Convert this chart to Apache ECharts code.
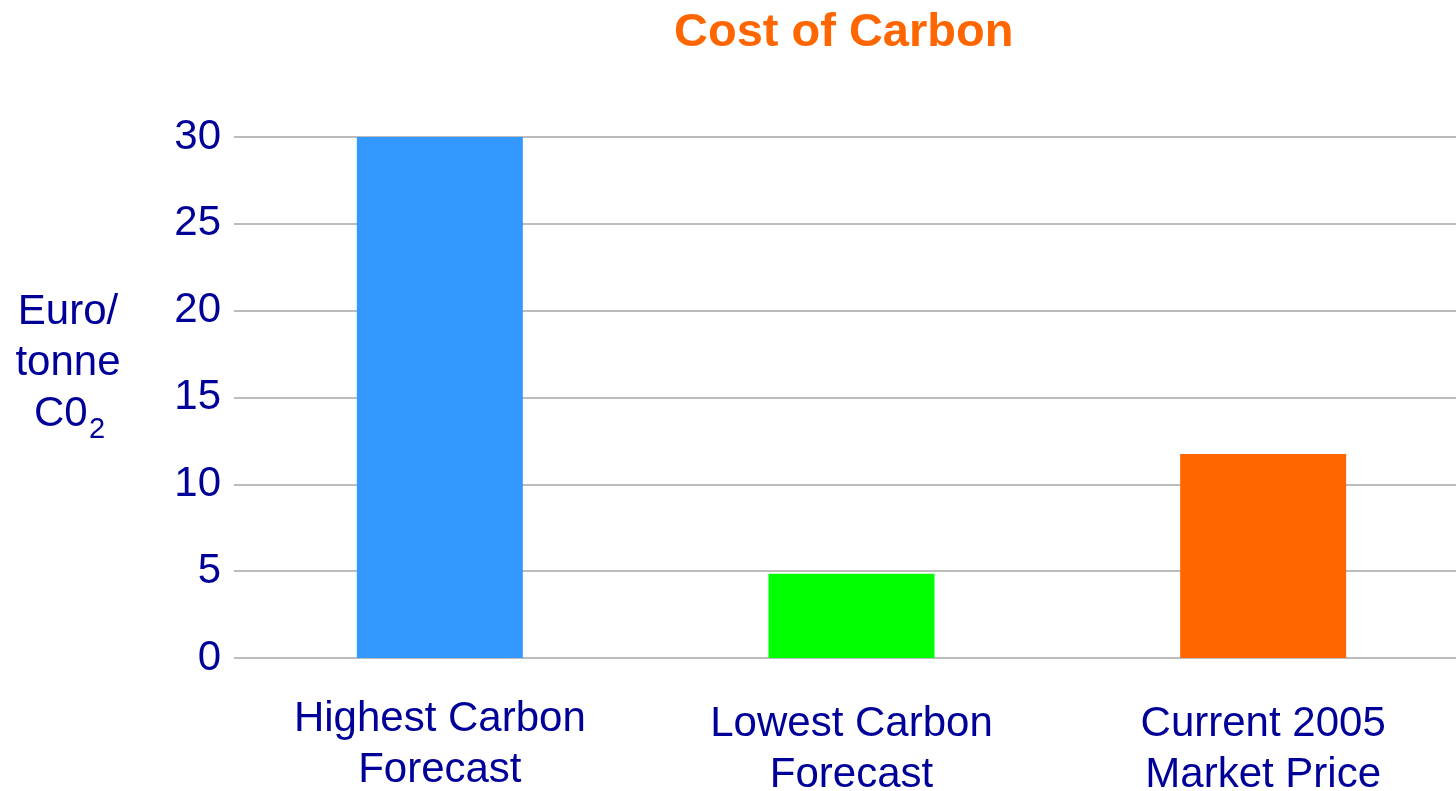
<!DOCTYPE html>
<html>
<head>
<meta charset="utf-8">
<title>Cost of Carbon</title>
<script src="https://cdn.jsdelivr.net/npm/echarts@6/dist/echarts.min.js"></script>
<style>
  html, body { margin: 0; padding: 0; background: #fff; }
  #chart { width: 1456px; height: 791px; }
</style>
</head>
<body>
<div id="chart"></div>
<script>
// data
var categories = ['Highest Carbon\nForecast', 'Lowest Carbon\nForecast', 'Current 2005\nMarket Price']
var values = [30, 4.85, 11.75]
var barColors = ['#3399ff', '#00ff00', '#ff6600']
var yTicks = { min: 0, max: 30, interval: 5 }

var textBlue = '#000099'
var fontFam = 'Liberation Sans, Arial, sans-serif'
var chart = echarts.init(document.getElementById('chart'))

chart.setOption({
  animation: false,
  textStyle: { fontFamily: fontFam },
  title: {
    text: 'Cost of Carbon',
    left: 669,
    top: 5,
    textStyle: { color: '#ff6600', fontSize: 47, fontWeight: 'bold' }
  },
  grid: {
    left: 234,
    width: 1235,
    top: 137,
    bottom: 133,
    containLabel: false,
    outerBoundsMode: 'none'
  },
  xAxis: {
    type: 'category',
    // first label sits a few px higher than the other two in the original
    data: categories.map(function (c, i) {
      return { value: c, textStyle: { padding: [i === 0 ? 0 : 5, 0, 0, 0] } }
    }),
    axisLine: { show: false },
    axisTick: { show: false },
    axisLabel: {
      color: textBlue,
      fontSize: 42,
      lineHeight: 51,
      margin: 36,
      interval: 0
    }
  },
  yAxis: {
    type: 'value',
    min: yTicks.min,
    max: yTicks.max,
    interval: yTicks.interval,
    axisLine: { show: false },
    axisTick: { show: false },
    axisLabel: { color: textBlue, fontSize: 42, margin: 13, padding: [0, 0, 5, 0] },
    splitLine: { lineStyle: { color: '#bcbcbc', width: 2 } }
  },
  graphic: [{
    type: 'text',
    x: 68,
    y: 287,
    style: {
      text: 'Euro/\ntonne',
      fill: textBlue,
      font: '42px ' + fontFam,
      lineHeight: 51,
      align: 'center',
      verticalAlign: 'top'
    }
  }, {
    type: 'text',
    x: 34,
    y: 414,
    style: {
      text: 'C0',
      fill: textBlue,
      font: '42px ' + fontFam,
      align: 'left',
      verticalAlign: 'middle'
    }
  }, {
    type: 'text',
    x: 89,
    y: 430,
    style: {
      text: '2',
      fill: textBlue,
      font: '29px ' + fontFam,
      align: 'left',
      verticalAlign: 'middle'
    }
  }],
  series: [{
    type: 'bar',
    barWidth: 166,
    data: values.map(function (v, i) {
      return { value: v, itemStyle: { color: barColors[i] } }
    })
  }]
})
</script>
</body>
</html>
